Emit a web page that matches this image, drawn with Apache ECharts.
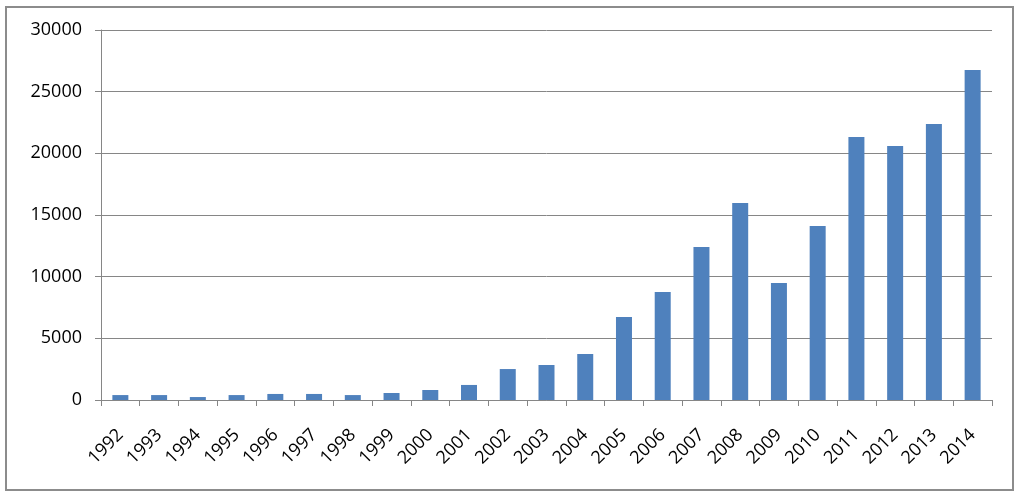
<!DOCTYPE html>
<html>
<head>
<meta charset="utf-8">
<script src="https://cdn.jsdelivr.net/npm/echarts@6/dist/echarts.min.js"></script>
<style>
  html, body { margin: 0; padding: 0; background: #fff; }
  #main { width: 1019px; height: 498px; }
</style>
</head>
<body>
<div id="main"></div>
<script>
var years = ['1992', '1993', '1994', '1995', '1996', '1997', '1998', '1999', '2000', '2001',
    '2002', '2003', '2004', '2005', '2006', '2007', '2008', '2009', '2010', '2011',
    '2012', '2013', '2014'];
var counts = [400, 400, 240, 400, 490, 490, 400, 570, 810, 1220,
    2510, 2840, 3730, 6730, 8760, 12400, 15970, 9490, 14110, 21320,
    20600, 22380, 26760];
var yTicks = [0, 5000, 10000, 15000, 20000, 25000, 30000];

var myChart = echarts.init(document.getElementById('main'));

var lineGrey = '#868686';

var option = {
    animation: false,
    textStyle: { fontFamily: 'Open Sans' },
    graphic: [
        {
            type: 'rect',
            shape: { x: 6, y: 7, width: 1007, height: 483 },
            style: { fill: 'none', stroke: '#8c8c8c', lineWidth: 2 }
        }
    ],
    grid: { left: 101, right: 27, top: 30, bottom: 98 },
    xAxis: {
        type: 'category',
        data: years,
        axisLine: { lineStyle: { color: lineGrey, width: 1 } },
        axisTick: { show: true, length: 6, lineStyle: { color: lineGrey } },
        axisLabel: { rotate: 45, color: '#000', fontSize: 18, margin: 32 }
    },
    yAxis: {
        type: 'value',
        min: yTicks[0],
        max: yTicks[yTicks.length - 1],
        interval: 5000,
        axisLine: { show: true, lineStyle: { color: lineGrey, width: 1 } },
        axisTick: { show: true, length: 6, lineStyle: { color: lineGrey } },
        axisLabel: {
            color: '#000',
            fontSize: 18,
            margin: 19,
            formatter: function (v) { return String(v); }
        },
        splitLine: { lineStyle: { color: lineGrey, width: 1 } }
    },
    series: [
        {
            type: 'bar',
            data: counts,
            barWidth: 16,
            itemStyle: { color: '#4f81bd' }
        }
    ]
};

myChart.setOption(option);
</script>
</body>
</html>
